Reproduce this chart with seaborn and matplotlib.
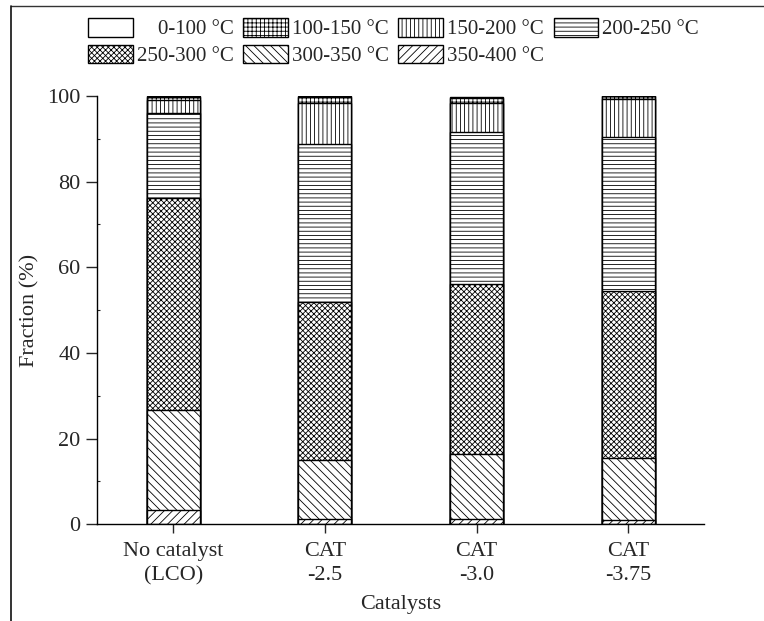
import matplotlib
matplotlib.use("Agg")
import matplotlib.pyplot as plt
import seaborn as sns
import pandas as pd
from matplotlib.patches import Patch
from matplotlib.lines import Line2D
from matplotlib.ticker import MultipleLocator

# data (fraction %), layers listed bottom -> top
categories = ["No catalyst\n(LCO)", "CAT\n-2.5", "CAT\n-3.0", "CAT\n-3.75"]
frac_350_400 = [3.35, 1.2, 1.2, 1.1]
frac_300_350 = [23.35, 13.9, 15.3, 14.4]
frac_250_300 = [49.5, 36.8, 39.6, 39.0]
frac_200_250 = [19.9, 37.0, 35.5, 36.0]
frac_150_200 = [2.9, 9.4, 6.8, 8.7]
frac_100_150 = [0.7, 1.4, 1.1, 0.7]
frac_0_100 = [0.2, 0.2, 0.2, 0.1]

layer_names = ["350-400 °C", "300-350 °C", "250-300 °C", "200-250 °C",
               "150-200 °C", "100-150 °C", "    0-100 °C"]
layer_values = [frac_350_400, frac_300_350, frac_250_300, frac_200_250,
                frac_150_200, frac_100_150, frac_0_100]
hatches = ["////", "\\\\\\\\", "xxxxxx", "----", "||||", "++++", ""]

sns.set_style("ticks")
plt.rcParams["font.family"] = ["Liberation Serif", "DejaVu Serif"]
plt.rcParams["hatch.linewidth"] = 0.6
plt.rcParams["hatch.color"] = "black"

df = pd.DataFrame({"Catalyst": categories})
for name, vals in zip(layer_names, layer_values):
    df[name] = vals
tops = df[layer_names].cumsum(axis=1)

fig = plt.figure(figsize=(7.64, 6.21), dpi=100)
ax = fig.add_axes([0.1274, 0.1557, 0.7941, 0.6897])

# stacked look: draw cumulative tops from the highest layer downwards
for name, h in reversed(list(zip(layer_names, hatches))):
    sns.barplot(x=df["Catalyst"], y=tops[name], order=categories, color="white",
                saturation=1, edgecolor="black", linewidth=1.0, hatch=h,
                width=0.35, errorbar=None, ax=ax)

ax.set_xlim(-0.5, 3.5)
ax.set_ylim(0, 100)
ax.yaxis.set_major_locator(MultipleLocator(20))
ax.yaxis.set_minor_locator(MultipleLocator(10))
ax.tick_params(axis="y", which="major", direction="out", length=8, width=1.0,
               labelsize=16, pad=4)
ax.tick_params(axis="y", which="minor", direction="in", length=2.5, width=0.8)
ax.tick_params(axis="x", which="major", direction="out", length=6.5, width=1.0,
               labelsize=16, pad=6)
for lbl in ax.get_xticklabels():
    lbl.set_linespacing(1.4)
for s in ["top", "right"]:
    ax.spines[s].set_visible(False)
for s in ["left", "bottom"]:
    ax.spines[s].set_linewidth(1.0)
    ax.spines[s].set_color("black")

ax.set_xlabel("Catalysts", fontsize=16, va="top")
ax.set_ylabel("Fraction (%)", fontsize=16)
ax.xaxis.set_label_coords(0.5, -0.165)
ax.yaxis.set_label_coords(-0.095, 0.5)

# legend in row-major order (matplotlib fills columns first)
handles = [Patch(facecolor="white", edgecolor="black", linewidth=1.0, hatch=h)
           for h in hatches]
order = [6, 2, 5, 1, 4, 0, 3]
fig.legend([handles[i] for i in order], [layer_names[i] for i in order],
           loc="upper left", bbox_to_anchor=(88 / 764, 1 - 18 / 621), ncol=4,
           frameon=False, fontsize=15, handlelength=2.15, handleheight=1.0,
           handletextpad=0.2, columnspacing=0.45, labelspacing=0.25,
           borderpad=0, borderaxespad=0)

# outer frame lines (top and left edges)
fig.add_artist(Line2D([10.7 / 764, 1.0], [1 - 6 / 621, 1 - 6 / 621],
                      transform=fig.transFigure, color="#333333", linewidth=1.0))
fig.add_artist(Line2D([10.7 / 764, 10.7 / 764], [0.0, 1 - 6 / 621],
                      transform=fig.transFigure, color="#111111", linewidth=1.2))

fig.savefig("out.png", dpi=100)
